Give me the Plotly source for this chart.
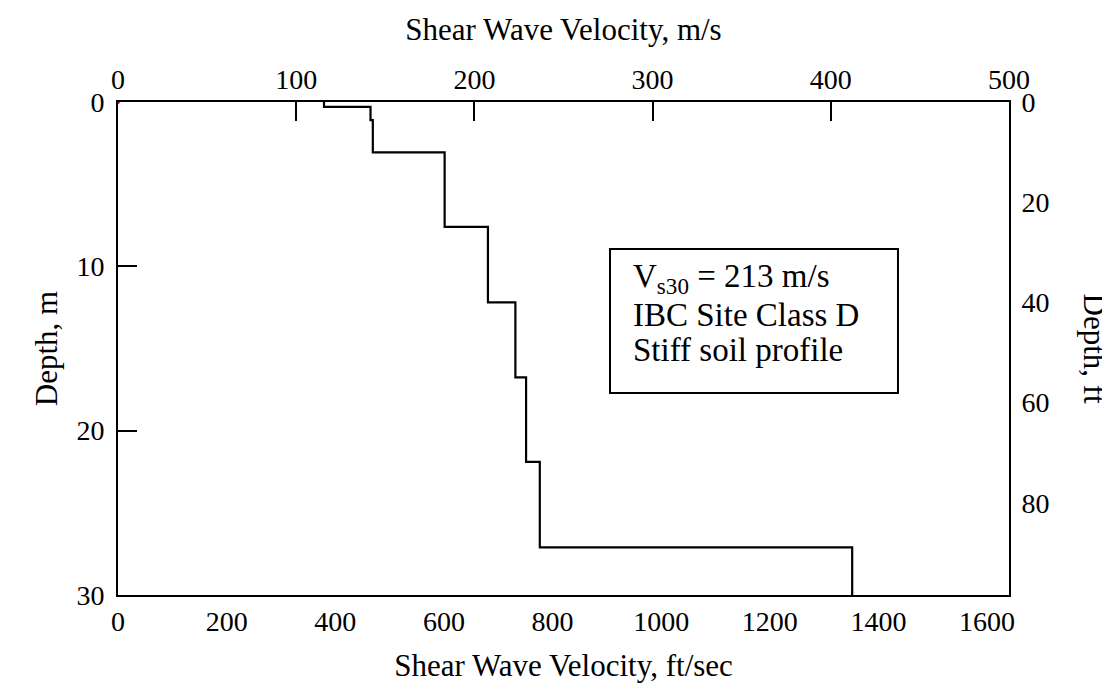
import plotly.graph_objects as go

# Layer data (m/s and metres)
layer_velocity_ms = [115.6, 141.7, 143.0, 183.3, 207.6, 223.0, 229.0, 236.7, 412.0]
layer_top_m = [0.0, 0.30, 1.10, 3.06, 7.60, 12.19, 16.76, 21.90, 27.10]
layer_bottom_m = [0.30, 1.10, 3.06, 7.60, 12.19, 16.76, 21.90, 27.10, 30.0]

top_ticks_ms = [0, 100, 200, 300, 400, 500]
bottom_ticks_fts = [0, 200, 400, 600, 800, 1000, 1200, 1400, 1600]
left_ticks_m = [0, 10, 20, 30]
right_ticks_ft = [0, 20, 40, 60, 80]

box_lines = ["V<sub>s30</sub> = 213 m/s", "IBC Site Class D", "Stiff soil profile"]

FT_PER_M = 3.28084
V_MAX_MS = 500
D_MAX_M = 30

xs, ys = [], []
for v, t, b in zip(layer_velocity_ms, layer_top_m, layer_bottom_m):
    xs += [v, v]
    ys += [t, b]

FONT = "Liberation Serif"
FS = 28
FT = 31
FB = 33

fig = go.Figure()
fig.add_trace(go.Scatter(x=xs, y=ys, mode="lines", xaxis="x2", yaxis="y",
                         line=dict(color="black", width=2.2), showlegend=False))
fig.add_trace(go.Scatter(x=[0], y=[0], mode="markers", xaxis="x2", yaxis="y",
                         marker=dict(color="red", size=4), cliponaxis=False,
                         showlegend=False))
# invisible trace to activate the bottom / right axes
fig.add_trace(go.Scatter(x=[0, V_MAX_MS * FT_PER_M], y=[0, D_MAX_M * FT_PER_M],
                         mode="markers", xaxis="x", yaxis="y2",
                         marker=dict(opacity=0), hoverinfo="skip", showlegend=False))

axis_common = dict(showgrid=False, zeroline=False, showline=True, linecolor="black",
                   linewidth=2, ticks="inside", ticklen=19, tickwidth=2,
                   tickcolor="black", tickfont=dict(family=FONT, size=FS, color="black"))

annotations = []
line_y = [0.641, 0.568, 0.497]
for txt, yy in zip(box_lines, line_y):
    annotations.append(dict(xref="paper", yref="paper", x=0.5758, y=yy,
                            xanchor="left", yanchor="middle", align="left",
                            showarrow=False, text=txt,
                            font=dict(family=FONT, size=FB, color="black")))
annotations.append(dict(xref="paper", yref="paper", x=1.0954, y=0.5,
                        xanchor="center", yanchor="middle", showarrow=False,
                        textangle=90, text="Depth, ft",
                        font=dict(family=FONT, size=FT, color="black")))

fig.update_layout(
    width=1110, height=683,
    margin=dict(l=110, r=109, t=94, b=96),
    paper_bgcolor="white", plot_bgcolor="white",
    font=dict(family=FONT, size=FS, color="black"),
    xaxis=dict(range=[0, V_MAX_MS * FT_PER_M], tickvals=bottom_ticks_fts,
               title=dict(text="Shear Wave Velocity, ft/sec",
                          font=dict(family=FONT, size=FT), standoff=19),
               side="bottom", **axis_common),
    xaxis2=dict(range=[0, V_MAX_MS], tickvals=top_ticks_ms, overlaying="x",
                side="top",
                title=dict(text="Shear Wave Velocity, m/s",
                           font=dict(family=FONT, size=FT), standoff=14),
                **axis_common),
    yaxis=dict(range=[D_MAX_M, 0], tickvals=left_ticks_m,
               title=dict(text="Depth, m", font=dict(family=FONT, size=FT),
                          standoff=10),
               ticklabelstandoff=6, **axis_common),
    yaxis2=dict(range=[D_MAX_M * FT_PER_M, 0], tickvals=right_ticks_ft,
                overlaying="y", side="right", ticklabelstandoff=5, **axis_common),
    shapes=[dict(type="rect", xref="paper", yref="paper",
                 x0=0.5522, x1=0.8754, y0=0.4097, y1=0.7018,
                 line=dict(color="black", width=2), fillcolor="rgba(0,0,0,0)")],
    annotations=annotations,
)

fig.write_html("out.html")
